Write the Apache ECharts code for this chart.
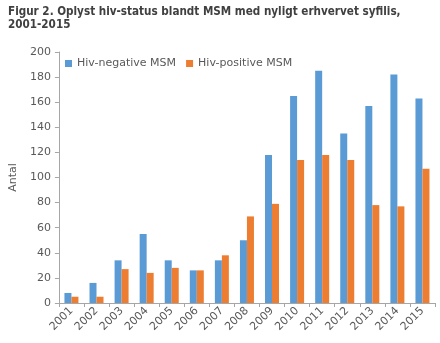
<!DOCTYPE html>
<html><head><meta charset="utf-8">
<script src="https://cdn.jsdelivr.net/npm/echarts@6/dist/echarts.min.js"></script>
<style>html,body{margin:0;padding:0;background:#fff}#c{width:440px;height:343px}</style>
</head><body><div id="c"></div>
<script>
const years = ['2001','2002','2003','2004','2005','2006','2007','2008','2009','2010','2011','2012','2013','2014','2015'];
const hivNegative = [8,16,34,55,34,26,34,50,118,165,185,135,157,182,163];
const hivPositive = [5,5,27,24,28,26,38,69,79,114,118,114,78,77,107];
const seriesNames = ['Hiv-negative MSM','Hiv-positive MSM'];
const titleText = 'Figur 2. Oplyst hiv-status blandt MSM med nyligt erhvervet syfilis,\n2001-2015';

const chart = echarts.init(document.getElementById('c'));
chart.setOption({
  animation:false,
  title:{text:titleText,left:3,top:0,textStyle:{fontFamily:'DejaVu Sans Condensed',fontWeight:'bold',fontSize:11.6,color:'#404040',lineHeight:13}},
  legend:{left:60,top:53,itemWidth:7,itemHeight:7,itemGap:10,icon:'rect',
    textStyle:{fontFamily:'DejaVu Sans',fontSize:11,color:'#595959'},data:seriesNames},
  grid:{left:52,right:5,top:52,bottom:40},
  xAxis:{type:'category',data:years,
    axisLine:{lineStyle:{color:'#a6a6a6'}},
    axisTick:{show:true,alignWithLabel:false,lineStyle:{color:'#a6a6a6'},length:4},
    axisLabel:{rotate:45,interval:0,fontFamily:'DejaVu Sans',fontSize:11,color:'#595959',margin:6}},
  yAxis:{type:'value',min:0,max:200,interval:20,name:'Antal',nameLocation:'middle',nameGap:36,
    nameTextStyle:{fontFamily:'DejaVu Sans',fontSize:11,color:'#595959'},
    axisLine:{show:true,lineStyle:{color:'#a6a6a6'}},
    axisTick:{show:true,lineStyle:{color:'#a6a6a6'},length:4},
    splitLine:{show:false},
    axisLabel:{fontFamily:'DejaVu Sans',fontSize:11,color:'#595959',margin:8}},
  series:[
    {name:seriesNames[0],type:'bar',data:hivNegative,barWidth:7,barGap:'0%',itemStyle:{color:'#5B9BD5'}},
    {name:seriesNames[1],type:'bar',data:hivPositive,barWidth:7,barGap:'0%',itemStyle:{color:'#ED7D31'}}
  ]
});
</script></body></html>
